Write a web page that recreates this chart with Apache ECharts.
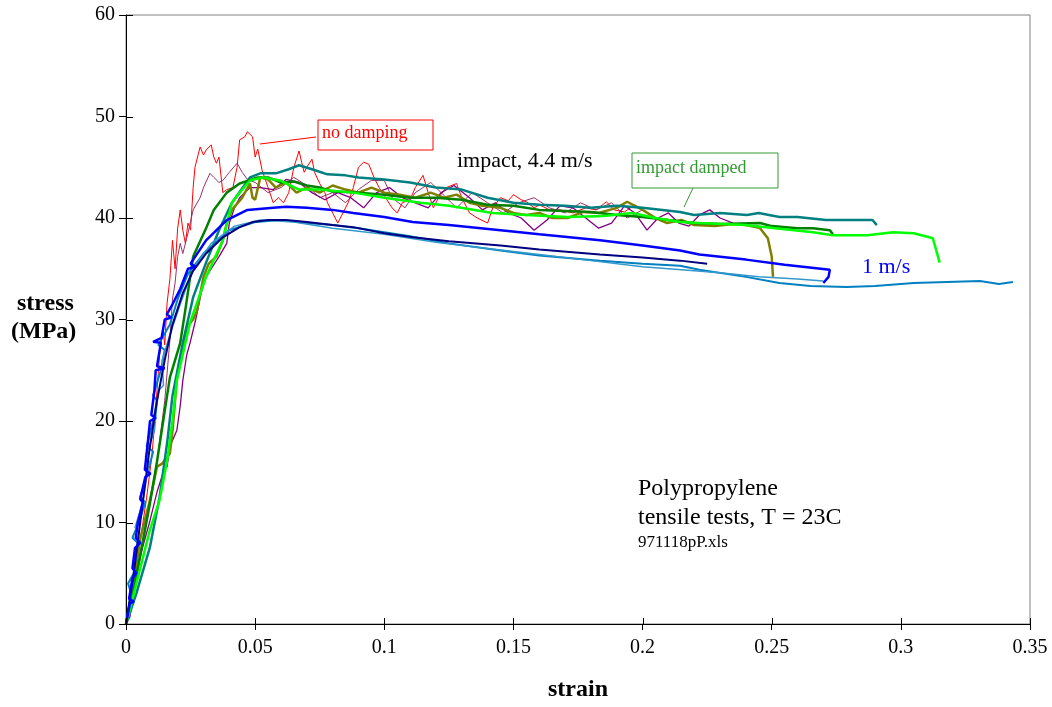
<!DOCTYPE html>
<html>
<head>
<meta charset="utf-8">
<script src="https://cdn.jsdelivr.net/npm/echarts@6/dist/echarts.min.js"></script>
<style>
html,body{margin:0;padding:0;background:#fff;}
#c{width:1052px;height:707px;}
</style>
</head>
<body>
<div id="c"></div>
<script>
// ---- data: [strain, stress(MPa)] ----
const noDamping = [[0,0],[0.002,2.5],[0.004,5.5],[0.006,9],[0.008,12.5],[0.010,16.5],[0.011,19.5],[0.012,23],[0.013,26.5],[0.0143,29],[0.015,27.5],[0.0159,31.6],[0.017,34],[0.018,37.8],[0.019,35],[0.020,39],[0.021,40.8],[0.022,38.8],[0.023,37.5],[0.024,39.5],[0.025,38.8],[0.026,43],[0.0267,45],[0.0287,47],[0.030,46.2],[0.031,46.7],[0.033,47.2],[0.034,46],[0.035,45.4],[0.036,46],[0.0375,42.5],[0.039,42.8],[0.0414,43],[0.043,45],[0.044,47.7],[0.046,48],[0.047,48.5],[0.049,48],[0.050,46],[0.051,46.8],[0.0527,44.7],[0.055,43],[0.057,41.5],[0.059,42],[0.061,41.5],[0.063,42.5],[0.065,45],[0.067,46.6],[0.068,45.5],[0.069,44.5],[0.070,45],[0.072,45.8],[0.073,44.5],[0.075,43.4],[0.077,42.5],[0.078,41.5],[0.080,40.5],[0.082,39.5],[0.084,40.5],[0.086,41.5],[0.088,43],[0.090,45],[0.092,45.5],[0.094,45.3],[0.096,44],[0.098,43],[0.101,41.8],[0.103,41],[0.105,40.5],[0.107,41.5],[0.110,41.8],[0.112,43],[0.115,44.2],[0.117,42.5],[0.119,41],[0.121,42],[0.124,43],[0.128,43.4],[0.130,42],[0.133,40.5],[0.136,40],[0.140,39.5],[0.142,41],[0.145,42],[0.148,41.7],[0.150,42.3],[0.153,41.8],[0.155,41.6],[0.158,41],[0.160,41.3],[0.164,40.8],[0.168,40.8],[0.173,40.5],[0.178,41],[0.182,40.8],[0.186,41.6],[0.189,40.8],[0.193,40.6],[0.197,41.3],[0.200,40.8]];
const impactPlum = [[0,0],[0.003,3],[0.006,7],[0.009,11.5],[0.012,16],[0.015,22],[0.017,28],[0.018,32],[0.019,33.6],[0.020,36.2],[0.021,37.5],[0.022,36.5],[0.024,38.5],[0.026,40.8],[0.0287,42],[0.030,43],[0.0325,44.4],[0.034,44],[0.036,43.5],[0.0375,43.7],[0.040,44.5],[0.043,45.4],[0.045,44.5],[0.047,43.8],[0.050,43.5],[0.055,42.5],[0.06,43],[0.065,44],[0.07,43.2],[0.075,42],[0.08,42.5],[0.085,41.5],[0.09,42.8],[0.095,43.7],[0.1,43.7],[0.103,42],[0.108,41],[0.112,42.5],[0.118,43.5],[0.122,42.5],[0.128,41],[0.134,42.5],[0.14,41.5],[0.146,40.5],[0.152,41.5],[0.158,42],[0.164,41],[0.17,40.5],[0.176,41.5],[0.182,40.8],[0.188,41.5],[0.194,40],[0.2,40.8]];
const impactPurple = [[0,0],[0.0015,0.7],[0.0054,6.6],[0.0093,10.2],[0.012,13],[0.0145,15],[0.0159,15.5],[0.017,17.5],[0.0197,19.1],[0.021,21.5],[0.022,24],[0.0235,26.5],[0.0248,27.7],[0.027,30],[0.029,32.5],[0.031,34.2],[0.033,35],[0.036,36.2],[0.039,37.5],[0.040,39.5],[0.042,41],[0.044,42],[0.048,43],[0.052,43],[0.057,42.8],[0.062,43.8],[0.067,43.5],[0.072,42.5],[0.077,41.8],[0.082,42.5],[0.087,42],[0.092,41],[0.097,42.5],[0.102,43],[0.107,42],[0.112,41.5],[0.117,41],[0.122,42.5],[0.127,43.2],[0.133,42],[0.138,40.8],[0.143,41.5],[0.148,40.5],[0.153,40],[0.158,38.8],[0.163,39.8],[0.168,41.2],[0.173,41],[0.178,40],[0.183,39],[0.188,39.5],[0.193,41.2],[0.197,40.5],[0.2017,38.8],[0.206,40],[0.21,40.5],[0.214,39.5],[0.218,39.2],[0.222,40.3],[0.226,40.8],[0.23,40],[0.235,39.5]];
const dampedOlive = [[0,0],[0.0015,2],[0.0054,8.3],[0.0093,12.2],[0.012,15.5],[0.014,15.8],[0.017,16.8],[0.018,19],[0.019,22],[0.0197,24.3],[0.021,26],[0.0236,29.3],[0.026,30],[0.0275,30.9],[0.030,34.2],[0.032,35.5],[0.035,36.2],[0.0375,37.8],[0.039,39.5],[0.041,40.8],[0.045,42],[0.048,43.4],[0.049,42],[0.050,41.8],[0.052,44],[0.055,43.8],[0.058,43],[0.062,43.5],[0.066,42.5],[0.07,43],[0.075,42.5],[0.08,43.2],[0.085,42.8],[0.09,42.5],[0.095,43],[0.1,42.5],[0.106,42.3],[0.112,42],[0.118,42.5],[0.123,42],[0.128,42.3],[0.133,41.5],[0.138,41.2],[0.145,41],[0.15,40.5],[0.155,40.3],[0.16,40.5],[0.165,40],[0.171,40],[0.177,40.6],[0.183,40.5],[0.19,41],[0.194,41.6],[0.2,40.8],[0.205,40],[0.2095,39.5],[0.215,39.8],[0.22,39.3],[0.228,39.2],[0.235,39.4],[0.24,39.3],[0.2455,39],[0.2485,38],[0.250,36.2],[0.2505,34.2]];
const dampedTeal = [[0,0],[0.004,3],[0.0093,7.6],[0.013,12.5],[0.016,18],[0.018,22.5],[0.022,27.7],[0.026,32.2],[0.031,35.6],[0.036,38.8],[0.041,41.5],[0.048,44],[0.052,44.4],[0.058,44.4],[0.063,44.8],[0.067,45.2],[0.072,44.8],[0.078,44.3],[0.085,44.2],[0.09,44],[0.1,43.8],[0.11,43.5],[0.12,43],[0.13,42.8],[0.14,42],[0.15,41.5],[0.16,41.3],[0.17,41.2],[0.18,41],[0.19,41.2],[0.2,41],[0.2145,40.6],[0.22,40.3],[0.23,40.5],[0.2404,40.3],[0.245,40.5],[0.253,40.1],[0.26,40.1],[0.271,39.8],[0.28,39.8],[0.289,39.8],[0.2907,39.3]];
const dampedGreen = [[0,0],[0.003,3.5],[0.006,7.5],[0.009,11.5],[0.012,16],[0.015,21],[0.017,24.3],[0.019,26],[0.021,27.7],[0.023,31],[0.026,36.2],[0.031,39],[0.034,40.8],[0.039,42.5],[0.044,43.4],[0.051,44],[0.055,44],[0.06,43.5],[0.065,43.6],[0.07,43.2],[0.075,43],[0.08,42.6],[0.09,42.5],[0.1,42.3],[0.11,42],[0.12,42],[0.13,41.8],[0.14,41.3],[0.15,41.2],[0.16,40.8],[0.17,40.7],[0.18,40.6],[0.19,40.3],[0.2,40.1],[0.21,39.8],[0.22,39.5],[0.23,39.4],[0.2455,39.5],[0.25,39.2],[0.26,39],[0.266,39],[0.2725,38.8],[0.2737,38.4]];
const dampedLime = [[0,0],[0.0015,1.4],[0.0043,4.3],[0.0093,9.3],[0.013,12.2],[0.016,16.2],[0.018,20],[0.0197,24],[0.0248,29.7],[0.031,34.2],[0.0375,37.8],[0.041,41.5],[0.045,42.8],[0.048,43.7],[0.053,44],[0.0596,43.7],[0.067,42.8],[0.075,42.8],[0.088,42.5],[0.1,42],[0.114,41.5],[0.125,41.2],[0.142,40.5],[0.155,40.3],[0.171,40.1],[0.185,40.2],[0.196,40.5],[0.205,40],[0.2145,39.6],[0.222,39.5],[0.24,39.3],[0.255,38.9],[0.266,38.6],[0.2737,38.3],[0.287,38.3],[0.297,38.6],[0.305,38.5],[0.3124,38],[0.3135,37],[0.315,35.6]];
const slowBlue = [[0,0],[0.0015,2],[0.003,2.2],[0.0012,2.5],[0.0025,4.5],[0.004,5],[0.0025,5.5],[0.0035,7.5],[0.0055,8],[0.0038,8.5],[0.0046,10],[0.0065,12],[0.0055,12.3],[0.0075,14.5],[0.0095,14.8],[0.0073,15.2],[0.0085,18],[0.0093,20],[0.0115,20.3],[0.0098,20.6],[0.011,23],[0.0115,25],[0.015,25.2],[0.012,25.4],[0.0135,27.7],[0.0105,27.8],[0.0138,28.2],[0.015,30],[0.0175,30.2],[0.0158,30.5],[0.018,31.5],[0.021,33],[0.024,35],[0.027,35.2],[0.025,35.5],[0.031,37.8],[0.039,39.8],[0.047,40.8],[0.057,41],[0.062,41.1],[0.07,41],[0.08,40.8],[0.088,40.5],[0.1,40.1],[0.111,39.6],[0.125,39.3],[0.145,38.8],[0.16,38.4],[0.1835,37.8],[0.2,37.3],[0.2145,36.8],[0.222,36.4],[0.24,35.9],[0.255,35.4],[0.2725,34.9],[0.272,34.2],[0.27,33.6]];
const slowNavy = [[0,0],[0.003,5],[0.006,11],[0.009,17],[0.012,22],[0.015,26],[0.018,29.5],[0.022,32.6],[0.026,34.8],[0.031,36.5],[0.0375,38.1],[0.044,39.1],[0.049,39.6],[0.055,39.8],[0.062,39.8],[0.07,39.6],[0.08,39.3],[0.088,39.1],[0.1,38.5],[0.111,38.1],[0.125,37.7],[0.145,37.3],[0.16,36.9],[0.1835,36.4],[0.2,36.1],[0.2145,35.8],[0.225,35.5]];
const slowCyan1 = [[0,0],[0.002,3],[0.0008,4],[0.003,5],[0.0045,8],[0.0025,8.5],[0.005,10],[0.0075,12],[0.0055,12.5],[0.0085,15],[0.0105,17],[0.008,17.5],[0.0105,20],[0.012,22],[0.0105,22.5],[0.0135,25],[0.015,27],[0.0125,27.5],[0.017,29.5],[0.02,32],[0.024,34.5],[0.03,36.5],[0.04,38.8],[0.05,39.6],[0.06,39.8],[0.07,39.5],[0.08,39.3],[0.09,39],[0.1,38.6],[0.11,38.2],[0.125,37.5],[0.145,36.8],[0.16,36.3],[0.1835,35.8],[0.2,35.5],[0.2145,35.3],[0.222,34.9],[0.24,34.2],[0.253,33.6],[0.265,33.3],[0.279,33.2],[0.29,33.3],[0.305,33.6],[0.3306,33.8],[0.338,33.5],[0.3434,33.7]];
const slowCyan2 = [[0,0],[0.0025,4],[0.005,9],[0.0035,9.5],[0.0065,12],[0.009,16],[0.0075,16.5],[0.011,19],[0.0125,23],[0.0145,23.5],[0.014,26],[0.017,28.5],[0.021,31.5],[0.026,35],[0.033,37.5],[0.042,39.2],[0.052,39.8],[0.065,39.6],[0.08,39],[0.1,38.4],[0.12,37.6],[0.14,37],[0.16,36.4],[0.18,35.8],[0.2,35.2],[0.215,34.9],[0.23,34.6],[0.245,34.2],[0.26,34],[0.27,33.8]];

const xTicks = {min: 0, max: 0.35, interval: 0.05};
const yTicks = {min: 0, max: 60, interval: 10};

const seriesDefs = [
  {name: 'no damping', data: noDamping, color: '#FF0000', width: 1},
  {name: 'impact 2', data: impactPlum, color: '#993366', width: 1},
  {name: 'impact 3', data: impactPurple, color: '#800080', width: 1.3},
  {name: 'damped olive', data: dampedOlive, color: '#808000', width: 2.5},
  {name: 'damped teal', data: dampedTeal, color: '#008080', width: 2.5},
  {name: 'damped green', data: dampedGreen, color: '#008000', width: 2.5},
  {name: 'damped lime', data: dampedLime, color: '#00FF00', width: 2.5},
  {name: '1 m/s c1', data: slowCyan1, color: '#0080C0', width: 2},
  {name: '1 m/s c2', data: slowCyan2, color: '#3399CC', width: 1.5},
  {name: '1 m/s navy', data: slowNavy, color: '#000080', width: 2},
  {name: '1 m/s blue', data: slowBlue, color: '#0000FF', width: 2.5}
];

const FONT = '"Liberation Serif", "Times New Roman", serif';
const chart = echarts.init(document.getElementById('c'), null, {renderer: 'canvas'});

const annotations = [
  {type: 'text', left: 17, top: 292, style: {text: 'stress', fontFamily: FONT, fontSize: 24, fontWeight: 'bold', fill: '#000'}},
  {type: 'text', left: 11, top: 320, style: {text: '(MPa)', fontFamily: FONT, fontSize: 24, fontWeight: 'bold', fill: '#000'}},
  {type: 'text', left: 548, top: 678, style: {text: 'strain', fontFamily: FONT, fontSize: 24, fontWeight: 'bold', fill: '#000'}},
  {type: 'line', shape: {x1: 316, y1: 137, x2: 260, y2: 144}, style: {stroke: '#FF0000', lineWidth: 1}},
  {type: 'rect', shape: {x: 318, y: 120, width: 115, height: 30}, style: {fill: '#fff', stroke: '#FF0000', lineWidth: 1}},
  {type: 'text', left: 322, top: 124, style: {text: 'no damping', fontFamily: FONT, fontSize: 18, fill: '#FF0000'}},
  {type: 'text', left: 457, top: 150, style: {text: 'impact, 4.4 m/s', fontFamily: FONT, fontSize: 22, fill: '#000'}},
  {type: 'line', shape: {x1: 693, y1: 188, x2: 684, y2: 207}, style: {stroke: '#339933', lineWidth: 1}},
  {type: 'rect', shape: {x: 632, y: 153, width: 146, height: 35}, style: {fill: '#fff', stroke: '#339933', lineWidth: 1}},
  {type: 'text', left: 636, top: 159, style: {text: 'impact damped', fontFamily: FONT, fontSize: 18, fill: '#339933'}},
  {type: 'text', left: 862, top: 256, style: {text: '1 m/s', fontFamily: FONT, fontSize: 22, fill: '#0000FF'}},
  {type: 'text', left: 638, top: 477, style: {text: 'Polypropylene', fontFamily: FONT, fontSize: 24, fill: '#000'}},
  {type: 'text', left: 638, top: 506, style: {text: 'tensile tests, T = 23C', fontFamily: FONT, fontSize: 24, fill: '#000'}},
  {type: 'text', left: 638, top: 534, style: {text: '971118pP.xls', fontFamily: FONT, fontSize: 17, fill: '#000'}}
];

chart.setOption({
  animation: false,
  backgroundColor: '#fff',
  grid: {left: 126, right: 22, top: 15, bottom: 83, show: true, borderColor: '#808080', borderWidth: 1, backgroundColor: 'transparent'},
  xAxis: Object.assign({type: 'value', splitLine: {show: false}}, xTicks, {
    position: 'bottom',
    axisLine: {show: true, onZero: false, lineStyle: {color: '#000', width: 1}},
    axisTick: {show: true, inside: false, length: 6, lineStyle: {color: '#000'}},
    axisLabel: {color: '#000', fontFamily: FONT, fontSize: 20, margin: 14,
      formatter: v => String(+v.toFixed(2))}
  }),
  yAxis: Object.assign({type: 'value', splitLine: {show: false}}, yTicks, {
    position: 'left',
    axisLine: {show: true, onZero: false, lineStyle: {color: '#000', width: 1}},
    axisTick: {show: true, inside: false, length: 7, lineStyle: {color: '#000'}},
    axisLabel: {color: '#000', fontFamily: FONT, fontSize: 20, margin: 11}
  }),
  series: seriesDefs.map(s => ({
    name: s.name,
    type: 'line',
    data: s.data,
    showSymbol: false,
    symbol: 'none',
    clip: true,
    lineStyle: {color: s.color, width: s.width},
    itemStyle: {color: s.color},
    emphasis: {disabled: true}
  })),
  graphic: annotations
});

// inner halves of the tick marks (ticks cross the axis lines), placed via the chart's own scales
const innerTicks = [];
const origin = chart.convertToPixel({gridIndex: 0}, [xTicks.min, yTicks.min]);
const nX = Math.round((xTicks.max - xTicks.min) / xTicks.interval);
for (let i = 0; i <= nX; i++) {
  const px = chart.convertToPixel({gridIndex: 0}, [xTicks.min + i * xTicks.interval, yTicks.min]);
  const x = Math.round(px[0]) + 0.5;
  innerTicks.push({type: 'line', z: 100, shape: {x1: x, y1: origin[1], x2: x, y2: origin[1] - 6}, style: {stroke: '#000', lineWidth: 1}});
}
const nY = Math.round((yTicks.max - yTicks.min) / yTicks.interval);
for (let j = 0; j <= nY; j++) {
  const py = chart.convertToPixel({gridIndex: 0}, [xTicks.min, yTicks.min + j * yTicks.interval]);
  const y = Math.round(py[1]) + 0.5;
  innerTicks.push({type: 'line', z: 100, shape: {x1: origin[0], y1: y, x2: origin[0] + 7, y2: y}, style: {stroke: '#000', lineWidth: 1}});
}
chart.setOption({graphic: annotations.concat(innerTicks)});
</script>
</body>
</html>
